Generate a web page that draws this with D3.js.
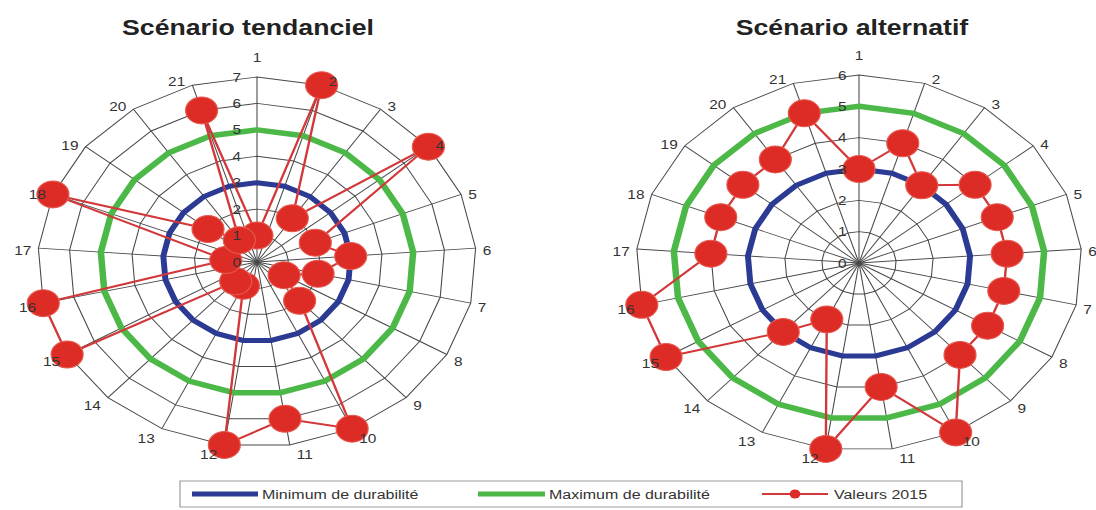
<!DOCTYPE html>
<html>
<head>
<meta charset="utf-8">
<script src="https://cdn.jsdelivr.net/npm/d3@7"></script>
<style>
  html, body { margin: 0; padding: 0; background: #fff; }
  svg { display: block; }
  text { font-family: "Liberation Sans", Arial, sans-serif; }
</style>
</head>
<body>
<div id="chart"></div>
<script>
// ---------- data ----------
const categories = ["1","2","3","4","5","6","7","8","9","10","11","12","13","14","15","16","17","18","19","20","21"];
const valeursTendanciel = [1,7,2,7,2,3,2,1,2,7,6,7,1,1,7,7,1,7,2,1,6];
const valeursAlternatif = [3,4,3,4,4,4,4,4,4,6,4,6,2,3,6,6,4,4,4,4,5];
const minTendanciel = [3,3,3,3,3,3,3,3,3,3,3,3,3,3,3,3,3,3,3,3,3];
const maxTendanciel = [5,5,5,5,5,5,5,5,5,5,5,5,5,5,5,5,5,5,5,5,5];
const minAlternatif = [3,3,3,3,3,3,3,3,3,3,3,3,3,3,3,3,3,3,3,3,3];
const maxAlternatif = [5,5,5,5,5,5,5,5,5,5,5,5,5,5,5,5,5,5,5,5,5];
const ticksTendanciel = [0,1,2,3,4,5,6,7];
const ticksAlternatif = [0,1,2,3,4,5,6];
const titles = ["Scénario tendanciel", "Scénario alternatif"];
const legendLabels = ["Minimum de durabilité", "Maximum de durabilité", "Valeurs 2015"];

// ---------- layout ----------
const WIDTH = 1096, HEIGHT = 510;
const KX = 1.185;                 // horizontal stretch of the reference
const VW = WIDTH / KX;
const COL = { blue: "#2b3a92", green: "#4cb848", red: "#dd2c26", redLine: "#d2383a", grid: "#484848", text: "#333" };

const svg = d3.select("#chart").append("svg")
  .attr("width", WIDTH).attr("height", HEIGHT)
  .attr("viewBox", `0 0 ${VW} ${HEIGHT}`)
  .attr("preserveAspectRatio", "none");

function radar(cfg) {
  const n = categories.length;
  const g = svg.append("g");
  const r = d3.scaleLinear().domain([0, cfg.max]).range([0, cfg.R]);
  const a = d3.scaleLinear().domain([0, n]).range([0, 2 * Math.PI]);
  const idx = d3.range(n);
  const px = (i, v) => cfg.cx + r(v) * Math.sin(a(i));
  const py = (i, v) => cfg.cy - r(v) * Math.cos(a(i));

  // title
  g.append("text").attr("x", cfg.titleX).attr("y", 35)
    .attr("text-anchor", "middle").attr("font-size", 22.5).attr("font-weight", "bold")
    .attr("fill", "#222").text(cfg.title);

  const inner = g.append("g").attr("transform", `translate(${cfg.cx},${cfg.cy})`);
  const ring = d3.lineRadial().angle(i => a(i)).curve(d3.curveLinearClosed);

  // grid rings
  inner.selectAll("path.ring").data(cfg.ticks.filter(t => t > 0)).join("path")
    .attr("class", "ring")
    .attr("d", t => ring.radius(() => r(t))(idx))
    .attr("fill", "none").attr("stroke", COL.grid).attr("stroke-width", 0.9);
  // spokes
  inner.selectAll("line.spoke").data(idx).join("line")
    .attr("class", "spoke")
    .attr("x1", 0).attr("y1", 0)
    .attr("x2", i => r(cfg.max) * Math.sin(a(i)))
    .attr("y2", i => -r(cfg.max) * Math.cos(a(i)))
    .attr("stroke", COL.grid).attr("stroke-width", 0.9);

  // min / max polygons
  const seriesLine = arr => d3.lineRadial().angle((d, i) => a(i)).radius(d => r(d)).curve(d3.curveLinearClosed)(arr);
  inner.append("path").attr("d", seriesLine(cfg.minV))
    .attr("fill", "none").attr("stroke", COL.blue).attr("stroke-width", 5);
  inner.append("path").attr("d", seriesLine(cfg.maxV))
    .attr("fill", "none").attr("stroke", COL.green).attr("stroke-width", 5.5);

  // values
  inner.append("path").attr("d", seriesLine(cfg.values))
    .attr("fill", "none").attr("stroke", COL.redLine).attr("stroke-width", 2);
  g.selectAll("circle.pt").data(cfg.values).join("circle")
    .attr("class", "pt")
    .attr("cx", (d, i) => px(i, d)).attr("cy", (d, i) => py(i, d))
    .attr("r", 13.5).attr("fill", COL.red).attr("stroke", "#e65a50").attr("stroke-width", 1);

  // spoke labels
  g.selectAll("text.cat").data(categories).join("text")
    .attr("class", "cat")
    .attr("font-size", 13).attr("fill", COL.text)
    .attr("dominant-baseline", "central")
    .attr("text-anchor", (d, i) => i === 0 ? "middle" : (Math.sin(a(i)) > 0 ? "start" : "end"))
    .attr("x", (d, i) => {
      const x0 = px(i, cfg.max);
      if (i === 0) return x0;
      return x0 + (Math.sin(a(i)) > 0 ? 6 : -6);
    })
    .attr("y", (d, i) => {
      const y0 = py(i, cfg.max);
      if (i === 0) return y0 - 20;
      return y0 + 3 - 7 * Math.cos(a(i));
    })
    .text(d => d);

  // ring labels
  g.selectAll("text.tick").data(cfg.ticks).join("text")
    .attr("class", "tick")
    .attr("font-size", 13).attr("fill", COL.text)
    .attr("text-anchor", "middle").attr("dominant-baseline", "central")
    .attr("x", cfg.cx - cfg.tickDx)
    .attr("y", t => cfg.cy - r(t))
    .text(t => t);
}

radar({ cx: 257 / KX, cy: 262, R: 185, max: 7, ticks: ticksTendanciel,
        values: valeursTendanciel, minV: minTendanciel, maxV: maxTendanciel,
        title: titles[0], titleX: 248 / KX, tickDx: 17 });
radar({ cx: 859 / KX, cy: 263, R: 188, max: 6, ticks: ticksAlternatif,
        values: valeursAlternatif, minV: minAlternatif, maxV: maxAlternatif,
        title: titles[1], titleX: 852 / KX, tickDx: 14 });

// ---------- legend ----------
const lg = svg.append("g");
const sx = v => v / KX;   // reference-pixel x to view x
lg.append("rect").attr("x", sx(180)).attr("y", 481).attr("width", sx(962) - sx(180)).attr("height", 26)
  .attr("fill", "#fff").attr("stroke", "#9a9a9a").attr("stroke-width", 1);
const items = [
  { x1: 192, x2: 258, color: COL.blue, w: 5, marker: false, tx: 262, label: legendLabels[0] },
  { x1: 478, x2: 545, color: COL.green, w: 5, marker: false, tx: 549, label: legendLabels[1] },
  { x1: 762, x2: 828, color: COL.redLine, w: 2, marker: true, tx: 834, label: legendLabels[2] }
];
items.forEach(it => {
  lg.append("line").attr("x1", sx(it.x1)).attr("x2", sx(it.x2)).attr("y1", 494).attr("y2", 494)
    .attr("stroke", it.color).attr("stroke-width", it.w);
  if (it.marker) {
    lg.append("circle").attr("cx", sx((it.x1 + it.x2) / 2)).attr("cy", 494).attr("r", 4.5).attr("fill", COL.red);
  }
  lg.append("text").attr("x", sx(it.tx)).attr("y", 494).attr("dominant-baseline", "central")
    .attr("font-size", 13.5).attr("fill", COL.text).text(it.label);
});
</script>
</body>
</html>
